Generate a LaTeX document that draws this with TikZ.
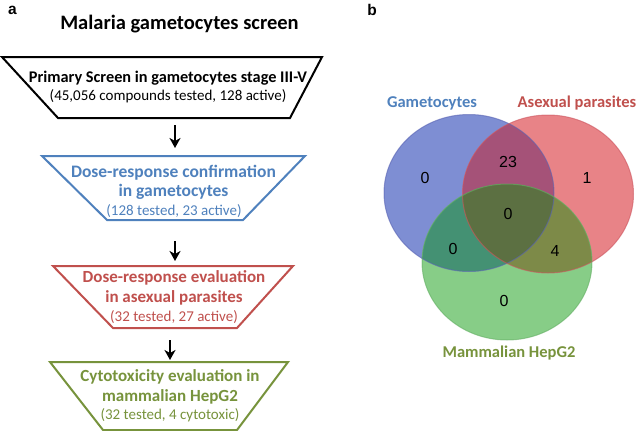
\documentclass[tikz,border=0pt]{standalone}
\usepackage{fontspec}
\setmainfont{Carlito}
\newfontfamily\numfont{Liberation Sans}
\usetikzlibrary{arrows.meta}
\definecolor{cblue}{RGB}{79,129,189}
\definecolor{cred}{RGB}{192,80,77}
\definecolor{cgreen}{RGB}{119,147,60}
\definecolor{vB}{RGB}{126,142,211}
\definecolor{vR}{RGB}{232,131,135}
\definecolor{vG}{RGB}{135,205,135}
\definecolor{vBR}{RGB}{165,82,120}
\definecolor{vBG}{RGB}{68,145,115}
\definecolor{vRG}{RGB}{125,138,72}
\definecolor{vBRG}{RGB}{92,112,66}
\definecolor{eB}{RGB}{90,100,180}
\definecolor{eR}{RGB}{205,85,95}
\definecolor{eG}{RGB}{100,175,100}
\tikzset{
  trap/.style={line width=2pt, line join=miter},
  head/.style={font=\fontsize{17}{20}\selectfont\bfseries, anchor=base, inner sep=0pt},
  sub/.style={font=\fontsize{15}{17}\selectfont, anchor=base, inner sep=0pt},
  flow/.style={line width=2.5pt, -{Stealth[length=10pt,width=11pt,inset=3pt]}},
  panel/.style={font=\fontsize{15.5}{17}\selectfont\bfseries\numfont, inner sep=0pt},
  vlabel/.style={font=\fontsize{16.5}{19}\selectfont\bfseries, anchor=base, inner sep=0pt},
  vnum/.style={font=\fontsize{16}{18}\selectfont\numfont, inner sep=0pt},
  vedge/.style={draw opacity=0.6, line width=1pt},
  EB/.style={insert path={(469,193) ellipse [x radius=85pt, y radius=78.5pt]}},
  ER/.style={insert path={(548,194) ellipse [x radius=85.5pt, y radius=79pt]}},
  EG/.style={insert path={(507,262) ellipse [x radius=85pt, y radius=78pt]}}
}
\begin{document}
\begin{tikzpicture}[x=1pt,y=-1pt]
\useasboundingbox (0,0) rectangle (638,431);
\fill[white] (0,0) rectangle (638,431);
% panel labels
\node[panel] (pa) at (12.5,10) {a};
\node[panel] (pb) at (372,10) {b};
% title
\node[font=\fontsize{20.5}{24}\selectfont\bfseries, anchor=base, inner sep=0pt] (title) at (179.5,30) {Malaria gametocytes screen};
% trapezoid 1
\draw[trap,black] (2,57) -- (322,57) -- (290,118) -- (58,118) -- cycle;
\node[head,font=\fontsize{16.3}{20}\selectfont\bfseries] (t1a) at (168,82) {Primary Screen in gametocytes stage III-V};
\node[sub] (t1b) at (168,100) {(45,056 compounds tested, 128 active)};
% trapezoid 2
\draw[trap,cblue] (42,156) -- (305,156) -- (243,220) -- (107,220) -- cycle;
\node[head,text=cblue,font=\fontsize{17.5}{20}\selectfont\bfseries] (t2a) at (173.5,177) {Dose-response confirmation};
\node[head,text=cblue,font=\fontsize{17.5}{20}\selectfont\bfseries] (t2b) at (173.5,196) {in gametocytes};
\node[sub,text=cblue] (t2c) at (174,215) {(128 tested, 23 active)};
% trapezoid 3
\draw[trap,cred] (53,266) -- (293,266) -- (237,328) -- (113,328) -- cycle;
\node[head,text=cred] (t3a) at (174,282) {Dose-response evaluation};
\node[head,text=cred] (t3b) at (174,302) {in asexual parasites};
\node[sub,text=cred] (t3c) at (174,321) {(32 tested, 27 active)};
% trapezoid 4
\draw[trap,cgreen] (50,362) -- (288,362) -- (237,430) -- (103,430) -- cycle;
\node[head,text=cgreen] (t4a) at (170,381) {Cytotoxicity evaluation in};
\node[head,text=cgreen] (t4b) at (170,401) {mammalian HepG2};
\node[sub,text=cgreen] (t4c) at (170,419) {(32 tested, 4 cytotoxic)};
% arrows
\coordinate (a1s) at (175,125);
\coordinate (a1e) at (175,148);
\coordinate (a2s) at (175,241);
\coordinate (a2e) at (175,261);
\coordinate (a3s) at (170,340);
\coordinate (a3e) at (170,360);
\draw[flow] (a1s) -- (a1e);
\draw[flow] (a2s) -- (a2e);
\draw[flow] (a3s) -- (a3e);
% Venn regions
\fill[vB, EB];
\fill[vR, ER];
\fill[vG, EG];
\begin{scope}
  \clip[EB];
  \fill[vBR, ER];
  \fill[vBG, EG];
\end{scope}
\begin{scope}
  \clip[ER];
  \fill[vRG, EG];
\end{scope}
\begin{scope}
  \clip[EB];
  \clip[ER];
  \fill[vBRG, EG];
\end{scope}
\draw[vedge, eB, EB];
\draw[vedge, eR, ER];
\draw[vedge, eG, EG];
\node[vlabel,text=cblue] (lg) at (432,107) {Gametocytes};
\node[vlabel,text=cred] (la) at (577,107) {Asexual parasites};
\node[vlabel,text=cgreen] (lm) at (509,357) {Mammalian HepG2};
\node[vnum] (n1) at (425,178) {0};
\node[vnum] (n2) at (508,162) {23};
\node[vnum] (n3) at (587,178) {1};
\node[vnum] (n4) at (508,214) {0};
\node[vnum] (n5) at (453,249) {0};
\node[vnum] (n6) at (555,251) {4};
\node[vnum] (n7) at (504,301) {0};
\end{tikzpicture}
\end{document}
